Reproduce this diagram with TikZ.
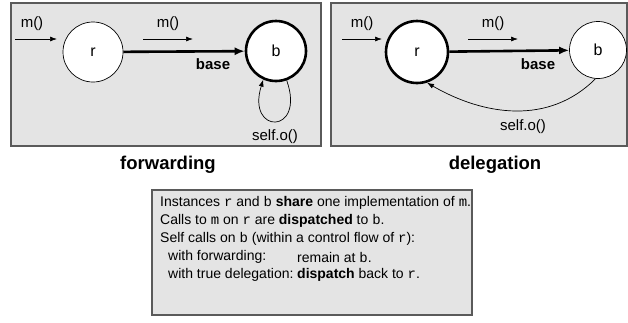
\documentclass[tikz,border=0pt]{standalone}
\usepackage{fontspec}
\setmainfont{Liberation Sans}
\setmonofont{Liberation Mono}
\usetikzlibrary{arrows.meta}
\definecolor{panelgray}{HTML}{E4E4E4}
\definecolor{framegray}{HTML}{5A5A5A}
\newcommand\fsz[1]{\fontsize{#1bp}{#1bp}\selectfont}
\begin{document}
\begin{tikzpicture}[x=1bp,y=-1bp,
  panel/.style={draw=framegray, line width=1.3bp, fill=panelgray, inner sep=0pt},
  obj/.style={circle, draw, fill=white, minimum size=60bp, inner sep=0pt, line width=0.7bp, font=\fsz{16}},
  heavy/.style={line width=2.6bp},
  lbl/.style={font=\fsz{15}, inner sep=0pt},
  title/.style={font=\fsz{18.5}\bfseries, inner sep=0pt},
  txt/.style={font=\fsz{14}, inner sep=0pt, anchor=west},
  msg/.style={-{Latex[length=7bp,width=5bp]}, line width=0.7bp},
  basearrow/.style={heavy, -{Latex[length=10bp,width=8bp]}},
  selfcall/.style={-{Latex[length=7bp,width=5bp]}, line width=0.7bp}]
\useasboundingbox (0,0) rectangle (628,322);

% ---------- forwarding ----------
\node[panel, minimum width=310bp, minimum height=143bp] (fpanel) at (166,74.5) {};
\node[obj] (fr) at (93,52) {r};
\node[obj, heavy, minimum size=60bp] (fb) at (276,51) {b};
\coordinate (fin1) at (15,39);  \coordinate (fin2) at (57,39);
\draw[msg] (fin1) -- (fin2);
\node[lbl] (fm1) at (32,24) {m()};
\coordinate (fmsg1) at (143,39); \coordinate (fmsg2) at (193,39);
\draw[msg] (fmsg1) -- (fmsg2);
\node[lbl] (fm2) at (168,24) {m()};
\draw[basearrow] (fr) -- (fb);
\node[lbl, font=\fsz{15}\bfseries] (fbase) at (213,64) {base};
\draw[selfcall] (fb.-70) .. controls (306,135) and (246,135) .. (fb.-114);
\node[lbl] (fself) at (275,137) {self.o()};
\node[title] (ftitle) at (168,165) {forwarding};

% ---------- delegation ----------
\node[panel, minimum width=296bp, minimum height=143bp] (dpanel) at (479,74.5) {};
\node[obj, heavy, minimum size=62bp] (dr) at (417,52) {r};
\node[obj, minimum size=57bp] (db) at (598,50) {b};
\coordinate (din1) at (342,39); \coordinate (din2) at (382,39);
\draw[msg] (din1) -- (din2);
\node[lbl] (dm1) at (362,24) {m()};
\coordinate (dmsg1) at (468,39); \coordinate (dmsg2) at (518,39);
\draw[msg] (dmsg1) -- (dmsg2);
\node[lbl] (dm2) at (493,24) {m()};
\draw[basearrow] (dr) -- (db);
\node[lbl, font=\fsz{15}\bfseries] (dbase) at (538,64) {base};
\draw[selfcall] (db.-95) to[out=-135, in=-30] (dr.-72);
\node[lbl] (dself) at (523,127) {self.o()};
\node[title] (dtitle) at (495,165) {delegation};

% ---------- summary ----------
\node[panel, minimum width=320bp, minimum height=125bp] (sbox) at (312,252.5) {};
\node[txt] (s1) at (160,203) {Instances \texttt{r} and \texttt{b} \textbf{share} one implementation of \texttt{m}.};
\node[txt] (s2) at (160,221) {Calls to \texttt{m} on \texttt{r} are \textbf{dispatched} to \texttt{b}.};
\node[txt] (s3) at (160,239) {Self calls on \texttt{b} (within a control flow of \texttt{r}):};
\node[txt] (s4) at (168,257) {with forwarding:};
\node[txt] (s4b) at (297,257) {remain at \texttt{b}.};
\node[txt] (s5) at (168,275) {with true delegation:};
\node[txt] (s5b) at (297,275) {\textbf{dispatch} back to \texttt{r}.};
\end{tikzpicture}
\end{document}
